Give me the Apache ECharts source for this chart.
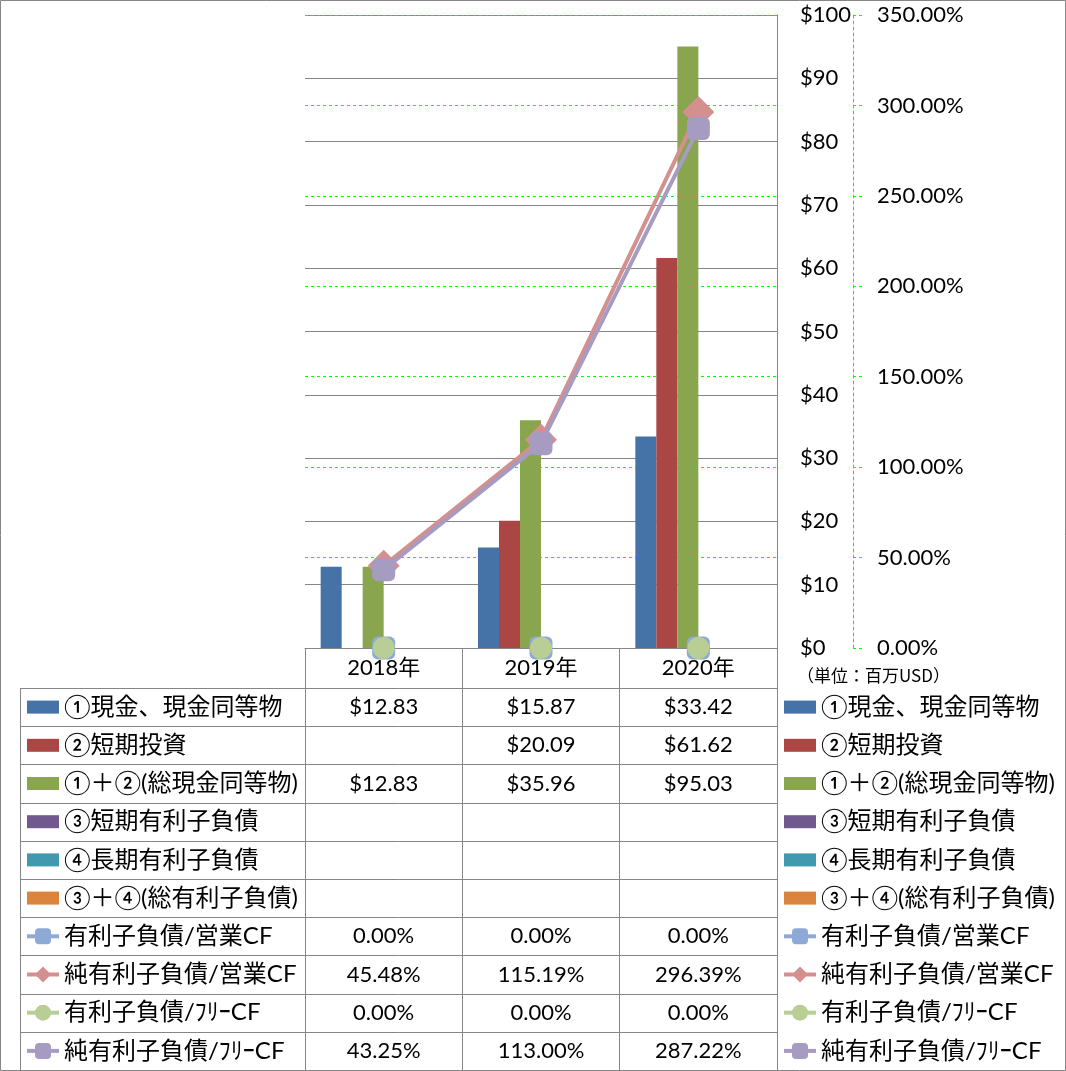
<!DOCTYPE html>
<html><head><meta charset="utf-8">
<script src="https://cdn.jsdelivr.net/npm/echarts@6/dist/echarts.min.js"></script>
<style>html,body{margin:0;padding:0;background:#fff}#c{width:1066px;height:1071px}</style>
</head><body><div id="c"></div>
<script>
// ---- data ----
const years = ['2018年', '2019年', '2020年'];
const cash = [12.83, 15.87, 33.42];
const shortInv = [null, 20.09, 61.62];
const totalCash = [12.83, 35.96, 95.03];
const shortDebt = [null, null, null];
const longDebt = [null, null, null];
const totalDebt = [null, null, null];
const debtOpCF = [0, 0, 0];
const netDebtOpCF = [45.48, 115.19, 296.39];
const debtFreeCF = [0, 0, 0];
const netDebtFreeCF = [43.25, 113.00, 287.22];
const seriesNames = ['①現金、現金同等物', '②短期投資', '①＋②(総現金同等物)', '③短期有利子負債', '④長期有利子負債', '③＋④(総有利子負債)',
  '有利子負債/営業CF', '純有利子負債/営業CF', '有利子負債/ﾌﾘｰCF', '純有利子負債/ﾌﾘｰCF'];
const unitLabel = '（単位：百万USD）';

// ---- styling ----
const FONT = "Lato, 'Noto Sans CJK JP', sans-serif";
const GRAY = '#868686';
const GREEN = '#00ff00';
const barColors = ['#4572A7', '#AA4643', '#89A54E', '#71588F', '#4198AF', '#DB843D'];
const lineColors = ['#8EA9D5', '#D4908F', '#B8CE95', '#A69BC1'];
const lineSymbols = ['roundRect', 'diamond', 'circle', 'roundRect'];
const lineSizes = [23, 32, 22, 23];
const lineVisible = [false, true, false, true]; // lines lying on the 0% edge are not visible in the reference

const barData = [cash, shortInv, totalCash, shortDebt, longDebt, totalDebt];
const lineData = [debtOpCF, netDebtOpCF, debtFreeCF, netDebtFreeCF];

const chart = echarts.init(document.getElementById('c'), null, {renderer: 'canvas'});

const series = [];
barData.forEach((d, i) => series.push({
  name: seriesNames[i], type: 'bar', data: d, barWidth: 21, barGap: '0%',
  itemStyle: {color: barColors[i]}, emphasis: {disabled: true}
}));
lineData.forEach((d, i) => series.push({
  name: seriesNames[6 + i], type: 'line', yAxisIndex: 1, data: d,
  symbol: lineSymbols[i], symbolSize: lineSizes[i],
  lineStyle: {color: lineColors[i], width: 4, opacity: lineVisible[i] ? 1 : 0},
  itemStyle: {color: lineColors[i]},
  emphasis: {disabled: true}, z: 3 + i
}));

const barIcon = 'path://M0,0L32,0L32,13L0,13Z';
function makeLegend(left) {
  return {
    orient: 'vertical', left: left, top: 693.1, padding: 0,
    itemWidth: 32, itemHeight: 20, itemGap: 10.2,
    selectedMode: false,
    textStyle: {fontSize: 24, fontFamily: FONT, color: '#000', lineHeight: 28},
    data: seriesNames.map((n, i) => i < 6
      ? {name: n, icon: barIcon}
      : {name: n, lineStyle: {color: lineColors[i - 6], width: 4, opacity: 1}})
  };
}

chart.setOption({
  animation: false,
  backgroundColor: '#fff',
  grid: {left: 305, right: 289, top: 15, bottom: 423, containLabel: false},
  legend: [makeLegend(782), makeLegend(25)],
  xAxis: {
    type: 'category', data: years,
    axisLine: {lineStyle: {color: GRAY, width: 1}},
    axisTick: {show: true, length: 422, lineStyle: {color: GRAY, width: 1}},
    axisLabel: {fontSize: 22, fontFamily: FONT, color: '#000', margin: 9}
  },
  yAxis: [{
    type: 'value', position: 'right', min: 0, max: 100, interval: 10,
    axisLine: {show: true, lineStyle: {color: GRAY, width: 1}},
    axisTick: {show: false},
    splitLine: {show: true, lineStyle: {color: GRAY, width: 1}},
    axisLabel: {fontSize: 22, fontFamily: FONT, color: '#000', margin: 23, formatter: v => '$' + v}
  }, {
    type: 'value', position: 'right', offset: 76, min: 0, max: 350, interval: 50,
    axisLine: {show: true, lineStyle: {color: GREEN, width: 1, type: [3, 3]}},
    axisTick: {show: true, inside: false, length: 9, lineStyle: {color: GREEN, width: 1, type: [3, 3]}},
    splitLine: {show: true, lineStyle: {color: GREEN, width: 1, type: [3, 3]}},
    axisLabel: {fontSize: 22, fontFamily: FONT, color: '#000', margin: 24, formatter: v => v.toFixed(2) + '%'}
  }],
  series: series
});

// ---- data table & frame drawn as graphics ----
const colX = years.map((y, i) => chart.convertToPixel({xAxisIndex: 0}, i));
const rowTop = 688, rowH = 38.2, tableLeft = 20, tableRight = 777;
const graphics = [];
for (let k = 0; k <= seriesNames.length; k++) {
  const y = Math.round(rowTop + rowH * k) + 0.5;
  graphics.push({type: 'line', shape: {x1: tableLeft, y1: y, x2: tableRight, y2: y}, style: {stroke: GRAY, lineWidth: 1}, silent: true});
}
graphics.push({type: 'line', shape: {x1: tableLeft + 0.5, y1: rowTop, x2: tableLeft + 0.5, y2: rowTop + rowH * seriesNames.length}, style: {stroke: GRAY, lineWidth: 1}, silent: true});
const allData = barData.concat(lineData);
allData.forEach((d, r) => {
  d.forEach((v, c) => {
    if (v === null || v === undefined) return;
    const txt = r < 6 ? '$' + v.toFixed(2) : v.toFixed(2) + '%';
    graphics.push({type: 'text', x: colX[c], y: rowTop + rowH * (r + 0.5), silent: true,
      style: {text: txt, fontSize: 22, fontFamily: FONT, fill: '#000', align: 'center', verticalAlign: 'middle'}});
  });
});
graphics.push({type: 'text', x: 797, y: 676, silent: true,
  style: {text: unitLabel, fontSize: 17, fontFamily: "'Noto Sans CJK JP', sans-serif", fill: '#000', align: 'left', verticalAlign: 'middle'}});
graphics.push({type: 'rect', shape: {x: 0.5, y: 0.5, width: 1065, height: 1070}, style: {fill: 'none', stroke: GRAY, lineWidth: 1}, silent: true});
chart.setOption({graphic: graphics});
</script>
</body></html>
